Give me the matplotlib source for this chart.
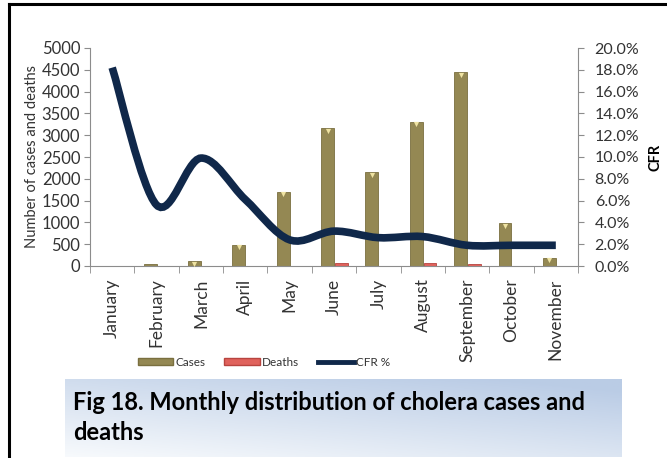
"""Monthly distribution of cholera cases, deaths and CFR."""

import numpy as np
import matplotlib
matplotlib.use("Agg")
import matplotlib.pyplot as plt
from matplotlib.path import Path
from matplotlib.patches import PathPatch, Patch
from matplotlib.lines import Line2D
from matplotlib.ticker import FuncFormatter, FixedLocator
from matplotlib.transforms import offset_copy

months = ["January", "February", "March", "April", "May", "June", "July",
          "August", "September", "October", "November"]
cases = [5, 50, 110, 490, 1700, 3160, 2150, 3310, 4440, 980, 190]
deaths = [6, 3, 6, 6, 6, 60, 10, 60, 50, 5, 5]
cfr = [0.182, 0.056, 0.099, 0.061, 0.024, 0.032, 0.026, 0.027, 0.019, 0.019, 0.019]

plt.rcParams["font.family"] = ["Lato", "DejaVu Sans"]
txt = "#333333"

fig = plt.figure(figsize=(6.67, 4.58), dpi=100)
fig.patch.set_facecolor("white")

ax = fig.add_axes([90 / 667, 1 - 266 / 458, (578 - 90) / 667, (266 - 48) / 458])
x = np.arange(len(months))
w = 0.29
ax.bar(x - w / 2, cases, width=w, color="#948853", edgecolor="#7a6f3f", linewidth=0.6,
       label="Cases", zorder=2)
ax.bar(x + 0.02 + w / 2, deaths, width=w, color="#e0625c", edgecolor="#b8443f", linewidth=0.6,
       label="Deaths", zorder=2)

# light bevel on top of the taller case bars
tall = np.array(cases) > 80
ax.scatter((x - w / 2)[tall], np.array(cases)[tall], marker="v", s=14, color="#efe3a2",
           linewidths=0, zorder=3,
           transform=offset_copy(ax.transData, fig=fig, y=-2.5, units="dots"))

ax.set_xlim(-0.5, len(months) - 0.5)
ax.set_ylim(0, 5000)
ax.set_yticks(np.arange(0, 5001, 500))
ax.set_xticks(x)
ax.set_xticklabels(months, rotation=90, fontsize=12.5, color=txt)
ax.xaxis.set_minor_locator(FixedLocator(np.arange(-0.5, len(months), 1.0)))
ax.tick_params(axis="x", which="major", length=0, pad=9)
ax.tick_params(axis="x", which="minor", length=5, color="#8c8c8c")
ax.tick_params(axis="y", length=4, color="#8c8c8c", labelsize=12, labelcolor=txt, pad=3)
for s in ["top", "right"]:
    ax.spines[s].set_visible(False)
for s in ["left", "bottom"]:
    ax.spines[s].set_color("#8c8c8c")
ax.set_ylabel("Number of cases and deaths", fontsize=10.5, color=txt, labelpad=2)

# CFR on the secondary axis, drawn as a smoothed curve
ax2 = ax.twinx()
ax2.set_ylim(0, 0.2)
ax2.set_yticks(np.arange(0, 0.201, 0.02))
ax2.yaxis.set_major_formatter(FuncFormatter(lambda v, _: f"{v * 100:.1f}%"))
ax2.tick_params(axis="y", length=4, color="#8c8c8c", labelsize=11.5, labelcolor=txt, pad=8)
for s in ["top", "left", "bottom"]:
    ax2.spines[s].set_visible(False)
ax2.spines["right"].set_color("#8c8c8c")
ax2.set_ylabel("CFR", fontsize=10.5, fontweight="bold", rotation=90,
               ha="center", va="center", rotation_mode="default")
ax2.yaxis.set_label_coords((656 - 90) / 488, (266 - 157) / 218)

n = len(cfr)
verts = [(x[0], cfr[0])]
codes = [Path.MOVETO]
for i in range(n - 1):
    a = max(i - 1, 0)
    b = min(i + 2, n - 1)
    c1 = (x[i] + (x[i + 1] - x[a]) / 6, cfr[i] + (cfr[i + 1] - cfr[a]) / 6)
    c2 = (x[i + 1] - (x[b] - x[i]) / 6, cfr[i + 1] - (cfr[b] - cfr[i]) / 6)
    verts += [c1, c2, (x[i + 1], cfr[i + 1])]
    codes += [Path.CURVE4] * 3
ax2.add_patch(PathPatch(Path(verts, codes), facecolor="none", edgecolor="#10284a",
                        linewidth=5.5, capstyle="butt", zorder=3))

handles = [Patch(facecolor="#948853", edgecolor="#7a6f3f", label="Cases"),
           Patch(facecolor="#e0625c", edgecolor="#b8443f", label="Deaths"),
           Line2D([], [], color="#10284a", lw=3.5, label="CFR %")]
leg = fig.legend(handles=handles, loc="center", bbox_to_anchor=(264 / 667, 1 - 362 / 458),
                 ncol=3, frameon=False, fontsize=8.5, handlelength=3.0, handleheight=0.5,
                 handletextpad=0.2, columnspacing=1.6)
for t_ in leg.get_texts():
    t_.set_color(txt)

# caption box with a soft blue gradient
cap = fig.add_axes([65 / 667, 1 - 457 / 458, (622 - 65) / 667, (457 - 379) / 458])
gx, gy = np.meshgrid(np.linspace(0, 1, 200), np.linspace(0, 1, 60))
t = np.clip(0.45 * gx + 0.65 * gy, 0, 1)
top = np.array([0.73, 0.80, 0.90])
low = np.array([0.97, 0.98, 0.99])
img = low + (top - low) * t[..., None]
cap.imshow(img, aspect="auto", extent=[0, 1, 0, 1], origin="lower")
cap.set_axis_off()
cap.text(0.015, 0.70, "Fig 18. Monthly distribution of cholera cases and",
         fontsize=17, fontweight="bold", va="center", ha="left")
cap.text(0.015, 0.31, "deaths", fontsize=17, fontweight="bold", va="center", ha="left")

# page frame edges
fig.add_artist(Line2D([8.5 / 667, 8.5 / 667], [0, 1 - 3.5 / 458], color="black", lw=2.2))
fig.add_artist(Line2D([8.5 / 667, 1], [1 - 3.5 / 458, 1 - 3.5 / 458], color="black", lw=2.2))

fig.savefig("out.png", dpi=100)
